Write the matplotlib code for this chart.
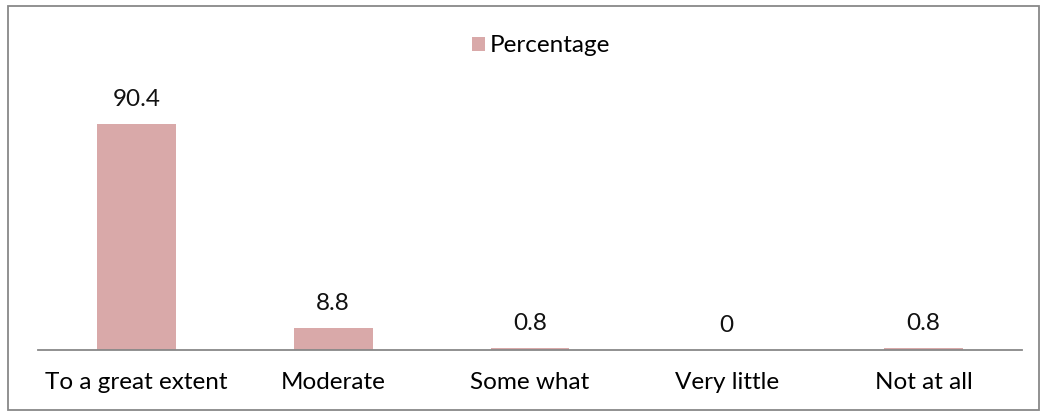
import matplotlib.pyplot as plt
from matplotlib.patches import Rectangle

# data
categories = ['To a great extent', 'Moderate', 'Some what', 'Very little', 'Not at all']
values = [90.4, 8.8, 0.8, 0, 0.8]
labels = ['90.4', '8.8', '0.8', '0', '0.8']

plt.rcParams['font.family'] = ['Lato', 'DejaVu Sans']

fig = plt.figure(figsize=(10.47, 4.16), dpi=100)
ax = fig.add_axes([38/1047, 66/416, 984/1047, 250/416])

x = range(len(categories))
bars = ax.bar(x, values, width=0.4, color='#D9A9A9', label='Percentage')

for i, b in enumerate(bars):
    ax.annotate(labels[i], (b.get_x() + b.get_width()/2, b.get_height()),
                xytext=(0, 10), textcoords='offset points',
                ha='center', va='bottom', fontsize=17.5, color='#111111')

ax.set_xlim(-0.5, len(categories) - 0.5)
ax.set_ylim(0, 100)
ax.set_xticks(list(x))
ax.set_xticklabels(categories, fontsize=17.5)
ax.tick_params(axis='x', length=0, pad=16)
ax.set_yticks([])
for s in ['top', 'left', 'right']:
    ax.spines[s].set_visible(False)
ax.spines['bottom'].set_color('#888888')
ax.spines['bottom'].set_linewidth(1.3)

ax.legend(loc='center', bbox_to_anchor=(541/1047, 1 - 46/416), bbox_transform=fig.transFigure,
          frameon=False, fontsize=17.5, handlelength=0.55, handleheight=0.55, handletextpad=0.2)

# outer border
fig.patches.append(Rectangle((8/1047, 6/416), 1031/1047, 404/416, transform=fig.transFigure,
                             fill=False, edgecolor='#888888', linewidth=1.3))

fig.savefig('out.png', dpi=100)
